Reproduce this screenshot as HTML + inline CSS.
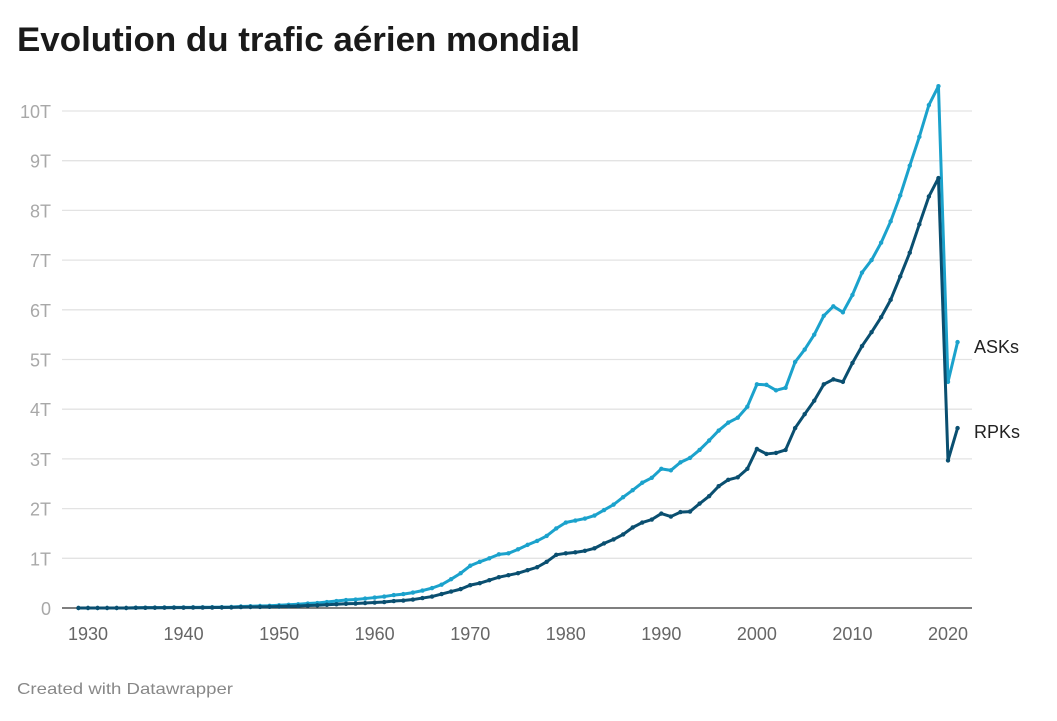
<!DOCTYPE html>
<html><head><meta charset="utf-8"><style>
body{margin:0;background:#fff;font-family:"Liberation Sans",sans-serif;}
svg text{font-family:"Liberation Sans",sans-serif;}
</style></head><body>
<svg id="chart" width="1057" height="716" viewBox="0 0 1057 716" xmlns="http://www.w3.org/2000/svg">
<text x="17" y="51" font-size="34" font-weight="bold" fill="#1a1a1a" textLength="563" lengthAdjust="spacingAndGlyphs">Evolution du trafic aérien mondial</text>
<g id="grid"></g><g id="lines"></g>
<text x="17" y="694" font-size="16" fill="#888" textLength="216" lengthAdjust="spacingAndGlyphs">Created with Datawrapper</text>
</svg>
<script>
const years=[];for(let y=1929;y<=2021;y++)years.push(y);
const asks=[0,0,0,0,0,0,.005,.007,.008,.01,.012,.012,.013,.014,.015,.017,.02,.03,.035,.04,.045,.055,.065,.075,.09,.1,.12,.14,.16,.17,.19,.21,.23,.26,.28,.31,.35,.4,.47,.58,.7,
.85,.93,1.0,1.08,1.1,1.18,1.27,1.35,1.45,1.6,1.72,1.76,1.8,1.86,1.97,2.08,2.23,2.37,2.52,2.62,2.8,2.77,2.93,3.02,3.18,3.37,3.57,3.73,3.83,4.05,4.5,4.49,4.38,4.43,4.95,5.2,5.5,5.88,6.07,5.95,6.3,6.75,7.0,7.35,7.78,8.3,8.9,9.48,10.12,10.5,4.55,5.35];
const rpks=[0,0,0,0,0,0,.003,.004,.005,.006,.007,.007,.008,.008,.009,.01,.012,.018,.02,.022,.025,.03,.035,.04,.05,.055,.065,.075,.085,.09,.1,.11,.12,.14,.15,.17,.2,.23,.28,.33,.38,
.46,.5,.56,.62,.66,.7,.76,.82,.93,1.07,1.1,1.12,1.15,1.2,1.3,1.38,1.48,1.62,1.72,1.78,1.9,1.84,1.93,1.94,2.1,2.25,2.45,2.58,2.63,2.8,3.2,3.1,3.12,3.18,3.62,3.9,4.17,4.5,4.6,4.55,4.93,5.27,5.55,5.85,6.2,6.67,7.15,7.72,8.28,8.65,2.97,3.62];
const yTicks=[0,1,2,3,4,5,6,7,8,9,10];
const yTickLabels=["0","1T","2T","3T","4T","5T","6T","7T","8T","9T","10T"];
const xTicks=[1930,1940,1950,1960,1970,1980,1990,2000,2010,2020];
const NS="http://www.w3.org/2000/svg";
const X=y=>88+(y-1930)*(860/90);
const Y=v=>608-v*49.7;
const grid=document.getElementById('grid'),lines=document.getElementById('lines');
function mk(tag,attrs,parent){const e=document.createElementNS(NS,tag);for(const k in attrs)e.setAttribute(k,attrs[k]);parent.appendChild(e);return e;}
yTicks.forEach((t,i)=>{
 if(t>0){const l=mk('line',{x1:62,x2:972,y1:Y(t),y2:Y(t),stroke:'#e3e3e3','stroke-width':1.3},grid);
 
 }
 const tx=mk('text',{x:51,y:Y(t)+7,'font-size':18,fill:'#a8a8a8','text-anchor':'end'},grid);tx.textContent=yTickLabels[i];
 
 
});
xTicks.forEach(t=>{const tx=mk('text',{x:X(t),y:640,'font-size':18,fill:'#666','text-anchor':'middle'},grid);tx.textContent=t;
 
 });
function series(vals,color,name){
 const g=mk('g',{},lines);
 
 
 const p=mk('polyline',{points:vals.map((v,i)=>X(years[i])+','+Y(v)).join(' '),fill:'none',stroke:color,'stroke-width':3,'stroke-linejoin':'round'},g);
 
 
 vals.forEach((v,i)=>{const c=mk('circle',{cx:X(years[i]),cy:Y(v),r:2.2,fill:color},g);
  
  });
 return g;
}
series(asks,'#1ba2cc','asks');
const base=mk('line',{x1:62,x2:972,y1:608,y2:608,stroke:'#333','stroke-width':1.3},lines);


series(rpks,'#0a4f70','rpks');
const la=mk('text',{x:974,y:353,'font-size':18,fill:'#222'},lines);la.textContent='ASKs';


const lr=mk('text',{x:974,y:438,'font-size':18,fill:'#222'},lines);lr.textContent='RPKs';


</script>
</body></html>
